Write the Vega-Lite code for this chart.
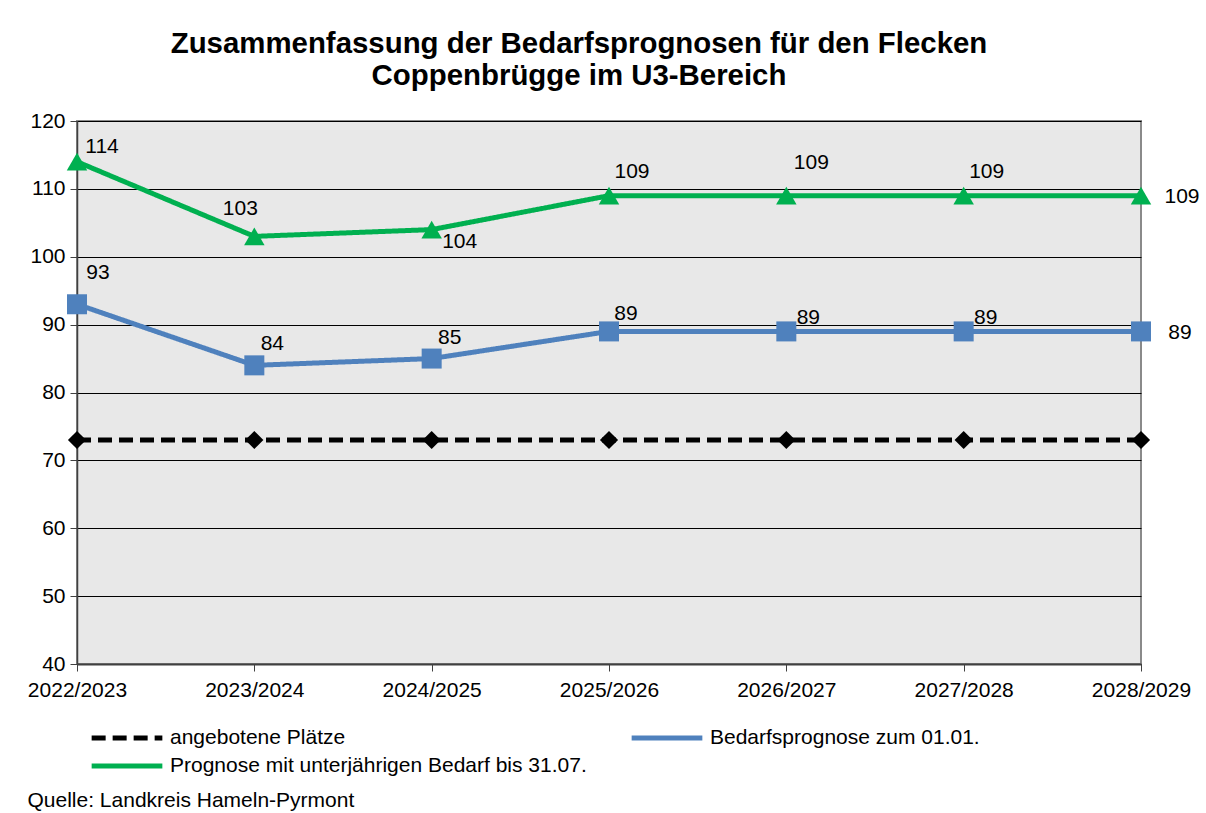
{
  "$schema": "https://vega.github.io/schema/vega-lite/v6.json",
  "width": 1064,
  "height": 543,
  "autosize": {"type": "none"},
  "padding": {"left": 77, "top": 121, "right": 65, "bottom": 149},
  "background": "white",
  "config": {
    "font": "Liberation Sans",
    "view": {"fill": "#e8e8e8", "stroke": "#8a8a8a", "strokeWidth": 2},
    "axis": {"labelFont": "Liberation Sans", "labelFontSize": 21, "labelColor": "black", "titleFont": "Liberation Sans"}
  },
  "title": {
    "text": ["Zusammenfassung der Bedarfsprognosen  für den Flecken", "Coppenbrügge im U3-Bereich"],
    "font": "Liberation Sans",
    "fontSize": 29.4,
    "fontWeight": "bold",
    "color": "black",
    "lineHeight": 32,
    "anchor": "middle",
    "frame": "group",
    "dx": -30,
    "offset": 19
  },
  "data": {
    "values": [
      {"year": "2022/2023", "series": "angebotene Plätze", "value": 73},
      {"year": "2023/2024", "series": "angebotene Plätze", "value": 73},
      {"year": "2024/2025", "series": "angebotene Plätze", "value": 73},
      {"year": "2025/2026", "series": "angebotene Plätze", "value": 73},
      {"year": "2026/2027", "series": "angebotene Plätze", "value": 73},
      {"year": "2027/2028", "series": "angebotene Plätze", "value": 73},
      {"year": "2028/2029", "series": "angebotene Plätze", "value": 73},
      {"year": "2022/2023", "series": "Bedarfsprognose zum 01.01.", "value": 93},
      {"year": "2023/2024", "series": "Bedarfsprognose zum 01.01.", "value": 84},
      {"year": "2024/2025", "series": "Bedarfsprognose zum 01.01.", "value": 85},
      {"year": "2025/2026", "series": "Bedarfsprognose zum 01.01.", "value": 89},
      {"year": "2026/2027", "series": "Bedarfsprognose zum 01.01.", "value": 89},
      {"year": "2027/2028", "series": "Bedarfsprognose zum 01.01.", "value": 89},
      {"year": "2028/2029", "series": "Bedarfsprognose zum 01.01.", "value": 89},
      {"year": "2022/2023", "series": "Prognose mit unterjährigen Bedarf bis 31.07.", "value": 114},
      {"year": "2023/2024", "series": "Prognose mit unterjährigen Bedarf bis 31.07.", "value": 103},
      {"year": "2024/2025", "series": "Prognose mit unterjährigen Bedarf bis 31.07.", "value": 104},
      {"year": "2025/2026", "series": "Prognose mit unterjährigen Bedarf bis 31.07.", "value": 109},
      {"year": "2026/2027", "series": "Prognose mit unterjährigen Bedarf bis 31.07.", "value": 109},
      {"year": "2027/2028", "series": "Prognose mit unterjährigen Bedarf bis 31.07.", "value": 109},
      {"year": "2028/2029", "series": "Prognose mit unterjährigen Bedarf bis 31.07.", "value": 109}
    ]
  },
  "encoding": {
    "x": {
      "field": "year", "type": "ordinal",
      "scale": {"type": "point", "padding": 0},
      "axis": {
        "labelAngle": 0, "domainColor": "#404040", "domainWidth": 2,
        "tickColor": "#404040", "tickSize": 7, "tickWidth": 1, "labelPadding": 8,
        "title": "Quelle: Landkreis Hameln-Pyrmont",
        "titleFontSize": 21, "titleFontWeight": "normal", "titleColor": "black",
        "titleAnchor": "start", "titleAlign": "left", "titleBaseline": "middle",
        "titleX": -50, "titleY": 136
      }
    },
    "y": {
      "field": "value", "type": "quantitative",
      "scale": {"domain": [40, 120], "nice": false, "zero": false},
      "axis": {
        "values": [40, 50, 60, 70, 80, 90, 100, 110, 120],
        "title": null, "grid": true, "gridColor": "black", "gridWidth": 1,
        "domainColor": "#404040", "domainWidth": 1.5,
        "tickColor": "#404040", "tickSize": 7, "labelPadding": 5
      }
    }
  },
  "layer": [
    {
      "mark": {"type": "line", "strokeWidth": 5},
      "encoding": {
        "color": {
          "field": "series", "type": "nominal",
          "scale": {
            "domain": ["angebotene Plätze", "Prognose mit unterjährigen Bedarf bis 31.07.", "Bedarfsprognose zum 01.01."],
            "range": ["#000000", "#00b050", "#4f81bd"]
          },
          "legend": {
            "title": null, "orient": "none", "legendX": 33, "legendY": 600,
            "columns": 2, "columnPadding": 34, "rowPadding": 1,
            "symbolType": "M-2.5,0H2.5", "symbolStrokeWidth": 5, "symbolSize": 800,
            "labelFontSize": 21, "labelFont": "Liberation Sans", "labelColor": "black",
            "labelOffset": 26, "labelLimit": 600
          }
        },
        "strokeDash": {
          "field": "series", "type": "nominal",
          "scale": {
            "domain": ["angebotene Plätze", "Prognose mit unterjährigen Bedarf bis 31.07.", "Bedarfsprognose zum 01.01."],
            "range": [[14, 7], [1, 0], [1, 0]]
          },
          "legend": null
        }
      }
    },
    {
      "transform": [{"filter": "datum.series === 'angebotene Plätze'"}],
      "mark": {"type": "point", "filled": true, "opacity": 1, "shape": "diamond", "size": 330, "color": "#000000"}
    },
    {
      "transform": [{"filter": "datum.series === 'Bedarfsprognose zum 01.01.'"}],
      "mark": {"type": "point", "filled": true, "opacity": 1, "shape": "square", "size": 400, "color": "#4f81bd"}
    },
    {
      "transform": [{"filter": "datum.series === 'Prognose mit unterjährigen Bedarf bis 31.07.'"}],
      "mark": {"type": "point", "filled": true, "opacity": 1, "shape": "triangle-up", "size": 420, "color": "#00b050"}
    },
    {
      "transform": [{"filter": "datum.series === 'Prognose mit unterjährigen Bedarf bis 31.07.' && datum.year === '2022/2023'"}],
      "mark": {"type": "text", "fontSize": 21, "dx": 25, "dy": -15, "color": "black"},
      "encoding": {"text": {"field": "value", "type": "quantitative"}}
    },
    {
      "transform": [{"filter": "datum.series === 'Prognose mit unterjährigen Bedarf bis 31.07.' && datum.year === '2023/2024'"}],
      "mark": {"type": "text", "fontSize": 21, "dx": -14, "dy": -27, "color": "black"},
      "encoding": {"text": {"field": "value", "type": "quantitative"}}
    },
    {
      "transform": [{"filter": "datum.series === 'Prognose mit unterjährigen Bedarf bis 31.07.' && datum.year === '2024/2025'"}],
      "mark": {"type": "text", "fontSize": 21, "dx": 28, "dy": 12, "color": "black"},
      "encoding": {"text": {"field": "value", "type": "quantitative"}}
    },
    {
      "transform": [{"filter": "datum.series === 'Prognose mit unterjährigen Bedarf bis 31.07.' && (datum.year === '2025/2026' || datum.year === '2027/2028')"}],
      "mark": {"type": "text", "fontSize": 21, "dx": 23, "dy": -24, "color": "black"},
      "encoding": {"text": {"field": "value", "type": "quantitative"}}
    },
    {
      "transform": [{"filter": "datum.series === 'Prognose mit unterjährigen Bedarf bis 31.07.' && datum.year === '2026/2027'"}],
      "mark": {"type": "text", "fontSize": 21, "dx": 25, "dy": -33, "color": "black"},
      "encoding": {"text": {"field": "value", "type": "quantitative"}}
    },
    {
      "transform": [{"filter": "datum.series === 'Prognose mit unterjährigen Bedarf bis 31.07.' && datum.year === '2028/2029'"}],
      "mark": {"type": "text", "fontSize": 21, "dx": 41, "dy": 1, "color": "black"},
      "encoding": {"text": {"field": "value", "type": "quantitative"}}
    },
    {
      "transform": [{"filter": "datum.series === 'Bedarfsprognose zum 01.01.' && datum.year === '2022/2023'"}],
      "mark": {"type": "text", "fontSize": 21, "dx": 21, "dy": -31, "color": "black"},
      "encoding": {"text": {"field": "value", "type": "quantitative"}}
    },
    {
      "transform": [{"filter": "datum.series === 'Bedarfsprognose zum 01.01.' && (datum.year === '2023/2024' || datum.year === '2024/2025')"}],
      "mark": {"type": "text", "fontSize": 21, "dx": 18, "dy": -21, "color": "black"},
      "encoding": {"text": {"field": "value", "type": "quantitative"}}
    },
    {
      "transform": [{"filter": "datum.series === 'Bedarfsprognose zum 01.01.' && datum.year === '2025/2026'"}],
      "mark": {"type": "text", "fontSize": 21, "dx": 17, "dy": -17, "color": "black"},
      "encoding": {"text": {"field": "value", "type": "quantitative"}}
    },
    {
      "transform": [{"filter": "datum.series === 'Bedarfsprognose zum 01.01.' && (datum.year === '2026/2027' || datum.year === '2027/2028')"}],
      "mark": {"type": "text", "fontSize": 21, "dx": 22, "dy": -13, "color": "black"},
      "encoding": {"text": {"field": "value", "type": "quantitative"}}
    },
    {
      "transform": [{"filter": "datum.series === 'Bedarfsprognose zum 01.01.' && datum.year === '2028/2029'"}],
      "mark": {"type": "text", "fontSize": 21, "dx": 39, "dy": 2, "color": "black"},
      "encoding": {"text": {"field": "value", "type": "quantitative"}}
    }
  ]
}
